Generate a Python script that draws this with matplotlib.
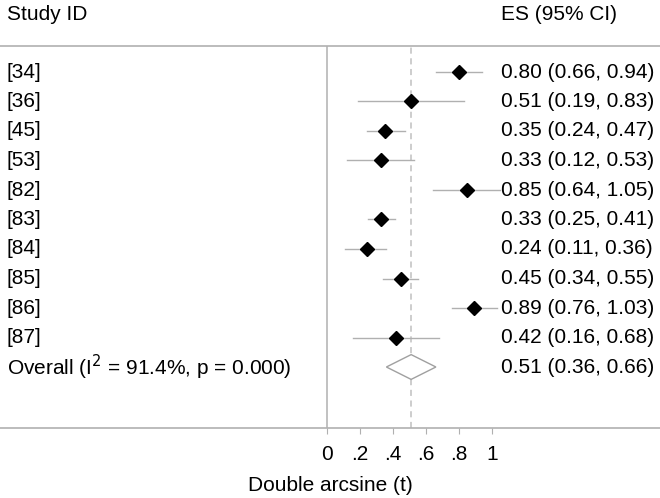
import matplotlib.pyplot as plt
from matplotlib.patches import Polygon

plt.rcParams["font.family"] = ["Liberation Sans", "DejaVu Sans"]

# study estimates (double arcsine scale)
studies = ["[34]", "[36]", "[45]", "[53]", "[82]", "[83]", "[84]", "[85]", "[86]", "[87]"]
es = [0.80, 0.51, 0.35, 0.33, 0.85, 0.33, 0.24, 0.45, 0.89, 0.42]
lo = [0.66, 0.19, 0.24, 0.12, 0.64, 0.25, 0.11, 0.34, 0.76, 0.16]
hi = [0.94, 0.83, 0.47, 0.53, 1.05, 0.41, 0.36, 0.55, 1.03, 0.68]

overall_label = "Overall (I$^2$ = 91.4%, p = 0.000)"
overall_es, overall_lo, overall_hi = 0.51, 0.36, 0.66

xticks = [0, 0.2, 0.4, 0.6, 0.8, 1]
xticklabels = ["0", ".2", ".4", ".6", ".8", "1"]

LINE = "#b0b0b0"
FS = 15

W, H = 660, 498
fig = plt.figure(figsize=(W / 100, H / 100), dpi=100)
top_px, bot_px = 46, 428
ax = fig.add_axes([0, (H - bot_px) / H, 1, (bot_px - top_px) / H])

x0_px, unit = 327, 165
ax.set_xlim(-x0_px / unit, (W - x0_px) / unit)
row0, step = 72, 29.5
ax.set_ylim((bot_px - row0) / step, (top_px - row0) / step)

for s in ["left", "right"]:
    ax.spines[s].set_visible(False)
for s in ["top", "bottom"]:
    ax.spines[s].set_color(LINE)
    ax.spines[s].set_linewidth(1.2)

ax.set_yticks([])
ax.set_xticks(xticks)
ax.set_xticklabels(xticklabels, fontsize=FS)
ax.tick_params(axis="x", length=4, color=LINE, pad=8)
ax.set_xlabel("Double arcsine (t)", fontsize=FS, labelpad=9)

x_left = (7 - x0_px) / unit
x_right = (501 - x0_px) / unit

# zero line and overall dashed line
ax.axvline(0, color=LINE, linewidth=1.1)
ax.axvline(overall_es, color="#c0c0c0", linewidth=1.1, linestyle=(0, (4, 3)))

for i, name in enumerate(studies):
    ax.plot([lo[i], hi[i]], [i, i], color=LINE, linewidth=1, zorder=2)
    ax.plot(es[i], i, marker="D", color="black", markersize=7, zorder=3)
    ax.text(x_left, i, name, fontsize=FS, va="center", ha="left")
    ax.text(x_right, i, f"{es[i]:.2f} ({lo[i]:.2f}, {hi[i]:.2f})",
            fontsize=FS, va="center", ha="left")

r = len(studies)
diamond = Polygon([(overall_lo, r), (overall_es, r - 0.42), (overall_hi, r), (overall_es, r + 0.42)],
                  closed=True, facecolor="white", edgecolor="#a0a0a0", linewidth=1, zorder=3)
ax.add_patch(diamond)
ax.text(x_left, r, overall_label, fontsize=FS, va="center", ha="left")
ax.text(x_right, r, f"{overall_es:.2f} ({overall_lo:.2f}, {overall_hi:.2f})",
        fontsize=FS, va="center", ha="left")

# headers above top line
y_head = (14 - row0) / step
ax.text(x_left, y_head, "Study ID", fontsize=FS, va="center", ha="left", clip_on=False)
ax.text(x_right, y_head, "ES (95% CI)", fontsize=FS, va="center", ha="left", clip_on=False)

fig.savefig("out.png", dpi=100)
